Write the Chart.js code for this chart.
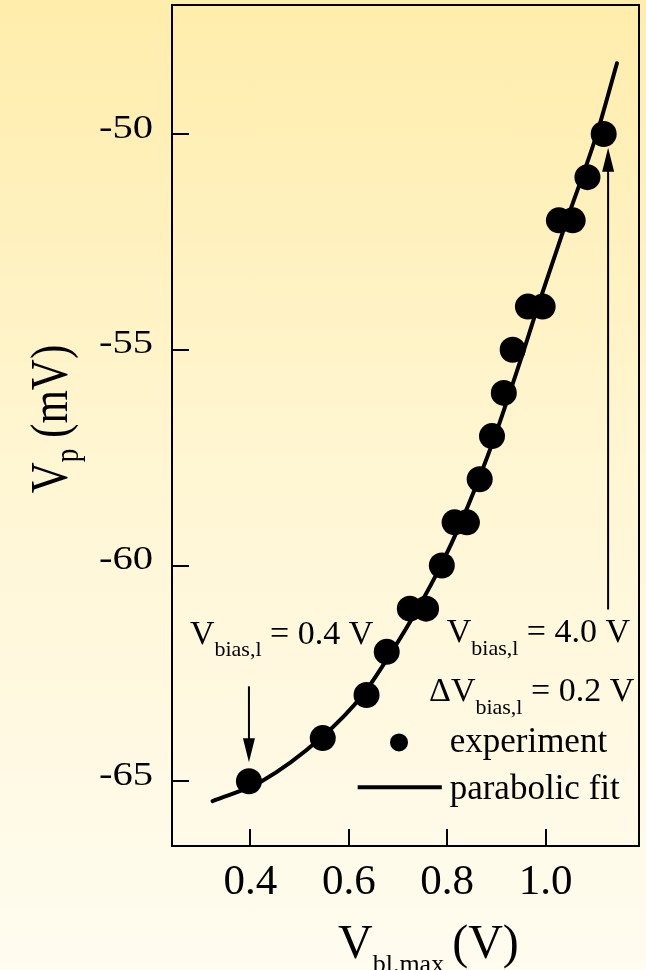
<!DOCTYPE html>
<html>
<head>
<meta charset="utf-8">
<script src="https://cdn.jsdelivr.net/npm/chart.js@4/dist/chart.umd.min.js"></script>
<style>
  html, body { margin: 0; padding: 0; overflow: hidden; }
  body { width: 646px; height: 970px; background: linear-gradient(to bottom, #ffedab 0%, #fff6d4 50%, #fffcf0 100%); }
  canvas { display: block; }
</style>
</head>
<body>
<canvas id="chart" width="646" height="970"></canvas>
<script>
// measured points: V_bl,max (V) vs V_p (mV)
const vblMax = [0.397, 0.547, 0.636, 0.677, 0.724, 0.757, 0.789, 0.815, 0.840, 0.866,
                0.891, 0.915, 0.933, 0.964, 0.994, 1.027, 1.055, 1.085, 1.118];
const vpExp  = [-65, -64, -63, -62, -61, -61, -60, -59, -59, -58,
                -57, -56, -55, -54, -54, -52, -52, -51, -50];

// parabolic fit
const fitX = [0.323, 0.423, 0.543, 0.628, 0.687, 0.740, 0.787, 0.828, 0.864, 0.897,
              0.927, 0.956, 0.984, 1.043, 1.104, 1.145];
const fitY = [-65.46, -65.0, -64.0, -63.0, -62.0, -61.0, -60.0, -59.0, -58.0, -57.0,
              -56.0, -55.0, -54.0, -52.0, -50.0, -48.36];

const xTicks = [0.4, 0.6, 0.8, 1.0];
const yTicks = [-65, -60, -55, -50];

const SERIF = '"Liberation Serif", "Times New Roman", serif';

// draws a run of [text, size, baselineShift] pieces starting at x, returns end x
function drawRun(ctx, parts, x, y) {
  for (const [txt, size, dy] of parts) {
    ctx.font = size + 'px ' + SERIF;
    ctx.fillText(txt, x, y + dy);
    x += ctx.measureText(txt).width;
  }
  return x;
}

function arrow(ctx, x, y0, y1) {
  const dir = y1 > y0 ? 1 : -1;
  ctx.lineWidth = 2;
  ctx.beginPath();
  ctx.moveTo(x, y0);
  ctx.lineTo(x, y1 - dir * 20);
  ctx.stroke();
  ctx.beginPath();
  ctx.moveTo(x, y1);
  ctx.lineTo(x - 6, y1 - dir * 24);
  ctx.lineTo(x + 6, y1 - dir * 24);
  ctx.closePath();
  ctx.fill();
}

const decor = {
  id: 'decor',
  afterDraw(chart) {
    const ctx = chart.ctx;
    const a = chart.chartArea;
    const xs = chart.scales.x, ys = chart.scales.y;
    const X = v => xs.getPixelForValue(v), Y = v => ys.getPixelForValue(v);
    ctx.save();
    ctx.fillStyle = '#000';
    ctx.strokeStyle = '#000';

    // frame + inward ticks
    ctx.lineWidth = 2;
    ctx.strokeRect(a.left, a.top, a.right - a.left, a.bottom - a.top);
    ctx.beginPath();
    for (const t of xs.ticks) {
      const px = Math.round(X(t.value));
      ctx.moveTo(px, a.bottom);
      ctx.lineTo(px, a.bottom - 17);
    }
    for (const t of ys.ticks) {
      const py = Math.round(Y(t.value));
      ctx.moveTo(a.left, py);
      ctx.lineTo(a.left + 17, py);
    }
    ctx.stroke();

    // y tick labels (slightly stretched like the original)
    ctx.textAlign = 'right';
    ctx.textBaseline = 'middle';
    ctx.font = '33px ' + SERIF;
    for (const t of ys.ticks) {
      ctx.save();
      ctx.translate(a.left - 19, Y(t.value) - 5);
      ctx.scale(1.23, 1);
      ctx.fillText(String(t.value), 0, 0);
      ctx.restore();
    }

    ctx.textAlign = 'left';
    ctx.textBaseline = 'alphabetic';

    // y title: V_p (mV)
    ctx.save();
    ctx.translate(67, 419);
    ctx.scale(1.23, 1);
    ctx.rotate(-Math.PI / 2);
    const yParts = [['V', 43, 0], ['p', 27, 9], [' (mV)', 43, 0]];
    let w = 0;
    for (const [txt, size] of yParts) { ctx.font = size + 'px ' + SERIF; w += ctx.measureText(txt).width; }
    drawRun(ctx, yParts, -w / 2, 0);
    ctx.restore();

    // x title: V_bl.max (V)
    let ex = drawRun(ctx, [['V', 48, 0], ['bl.max', 26, 14]], a.left + 166, 958);
    drawRun(ctx, [['(V)', 48, 0]], ex + 8, 958);

    // annotations
    drawRun(ctx, [['V', 34, 0], ['bias,l', 22, 12], [' = 0.4 V', 34, 0]], X(0.277), Y(-61.83));
    drawRun(ctx, [['V', 34, 0], ['bias,l', 22, 13], [' = 4.0 V', 34, 0]], X(0.799), Y(-61.78));
    drawRun(ctx, [['\u0394V', 34, 0], ['bias,l', 22, 13], [' = 0.2 V', 34, 0]], X(0.763), Y(-63.15));

    arrow(ctx, X(0.397), Y(-62.80), Y(-64.56));
    arrow(ctx, X(1.127), Y(-61.02), Y(-50.32));

    // legend
    ctx.beginPath();
    ctx.arc(X(0.702), Y(-64.10), 9, 0, Math.PI * 2);
    ctx.fill();
    ctx.lineWidth = 4;
    ctx.beginPath();
    ctx.moveTo(X(0.618), Y(-65.14));
    ctx.lineTo(X(0.789), Y(-65.14));
    ctx.stroke();
    drawRun(ctx, [['experiment', 35, 0]], X(0.805), Y(-64.33));
    drawRun(ctx, [['parabolic fit', 35, 0]], X(0.805), Y(-65.42));

    ctx.restore();
  }
};

new Chart(document.getElementById('chart'), {
  data: {
    datasets: [
      {
        type: 'line',
        label: 'parabolic fit',
        data: fitX.map((x, i) => ({ x, y: fitY[i] })),
        borderColor: '#000',
        borderWidth: 4,
        borderCapStyle: 'round',
        pointRadius: 0,
        cubicInterpolationMode: 'monotone',
        fill: false
      },
      {
        type: 'scatter',
        label: 'experiment',
        data: vblMax.map((x, i) => ({ x, y: vpExp[i] })),
        backgroundColor: '#000',
        borderWidth: 0,
        pointRadius: 13
      }
    ]
  },
  options: {
    responsive: false,
    animation: false,
    layout: { autoPadding: false, padding: { top: 5, right: 7, left: 0, bottom: 0 } },
    plugins: { legend: { display: false }, tooltip: { enabled: false } },
    scales: {
      x: {
        type: 'linear',
        min: 0.2406,
        max: 1.1898,
        afterBuildTicks: s => { s.ticks = xTicks.map(v => ({ value: v })); },
        afterFit: s => { s.height = 124; },
        grid: { display: false, drawTicks: false },
        border: { display: false },
        ticks: {
          color: '#000',
          padding: 11,
          font: { family: SERIF, size: 43 },
          callback: v => Number(v).toFixed(1)
        }
      },
      y: {
        type: 'linear',
        min: -66.50,
        max: -47.01,
        afterBuildTicks: s => { s.ticks = yTicks.map(v => ({ value: v })); },
        afterFit: s => { s.width = 172; },
        grid: { display: false, drawTicks: false },
        border: { display: false },
        ticks: { display: false }
      }
    }
  },
  plugins: [decor]
});
</script>
</body>
</html>
